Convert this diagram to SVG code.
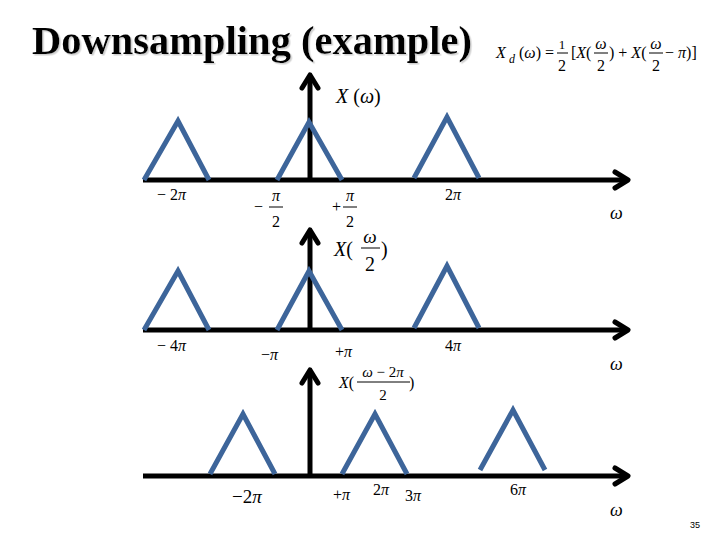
<svg xmlns="http://www.w3.org/2000/svg" width="720" height="540" viewBox="0 0 720 540">
<defs>
<marker id="ah" markerUnits="userSpaceOnUse" markerWidth="30" markerHeight="30" viewBox="-20 -15 30 30" refX="0" refY="0" orient="auto">
<path d="M-13,-8 L0,0 L-13,8" fill="none" stroke="#000" stroke-width="5" stroke-linejoin="round" stroke-linecap="round"/>
</marker>
<filter id="sh" x="-5%" y="-20%" width="110%" height="150%">
<feDropShadow dx="1.5" dy="1.5" stdDeviation="0.6" flood-color="#bbb" flood-opacity="0.7"/>
</filter>
</defs>
<style>
text{font-family:"Liberation Serif","Times New Roman","DejaVu Serif",serif;fill:#000}
.ax{stroke:#000;stroke-width:5;fill:none}
.tri{stroke:#3D659A;stroke-width:5;fill:none;stroke-linejoin:miter}
.m{font-size:16px}
.mi{font-size:18px;font-style:italic}
.i{font-style:italic}
.frac{stroke:#000;stroke-width:1}
.lbl{font-size:20px}
</style>
<rect width="720" height="540" fill="#fff"/>
<g id="title">
<text x="32" y="54" font-weight="bold" font-size="40" textLength="440" lengthAdjust="spacingAndGlyphs" filter="url(#sh)">Downsampling (example)</text>
</g>
<g id="formula" font-size="16">
<text x="496" y="58" class="i">X</text>
<text x="509" y="63" class="i" font-size="12">d</text>
<text x="519" y="58">(<tspan class="i">ω</tspan>) =</text>
<text x="562" y="49" text-anchor="middle" font-size="13">1</text>
<line class="frac" x1="557" y1="53" x2="568" y2="53"/>
<text x="562" y="71" text-anchor="middle">2</text>
<text x="571" y="58">[<tspan class="i">X</tspan>(</text>
<text x="601" y="49" text-anchor="middle" class="i">ω</text>
<line class="frac" x1="594" y1="53" x2="608" y2="53"/>
<text x="601" y="71" text-anchor="middle">2</text>
<text x="609" y="58">) + <tspan class="i">X</tspan>(</text>
<text x="656" y="49" text-anchor="middle" class="i">ω</text>
<line class="frac" x1="649" y1="53" x2="663" y2="53"/>
<text x="656" y="71" text-anchor="middle">2</text>
<text x="665" y="58">− <tspan class="i">π</tspan>)]</text>
</g>
<g id="connectors">
<line class="ax" x1="143" y1="180" x2="628" y2="180" marker-end="url(#ah)"/>
<line class="ax" x1="310" y1="180" x2="310" y2="75" marker-end="url(#ah)"/>
<line class="ax" x1="143" y1="330" x2="628" y2="330" marker-end="url(#ah)"/>
<line class="ax" x1="310" y1="330" x2="310" y2="230" marker-end="url(#ah)"/>
<line class="ax" x1="143" y1="476" x2="628" y2="476" marker-end="url(#ah)"/>
<line class="ax" x1="310" y1="476" x2="310" y2="370" marker-end="url(#ah)"/>
</g>
<g id="panel1">
<polyline class="tri" points="144,180 178,121 209,180"/>
<polyline class="tri" points="277,180 309,122 342,180"/>
<polyline class="tri" points="414,178 447,117 479,178"/>
<text x="336" y="103" class="lbl"><tspan class="i">X</tspan> (<tspan class="i">ω</tspan>)</text>
<text class="m" x="157" y="200">− 2<tspan class="i">π</tspan></text>
<text class="m" x="254" y="212">−</text>
<text class="m i" x="276" y="201" text-anchor="middle">π</text>
<line class="frac" x1="269" y1="207" x2="283" y2="207"/>
<text class="m" x="276" y="227" text-anchor="middle">2</text>
<text class="m" x="332" y="212">+</text>
<text class="m i" x="350" y="201" text-anchor="middle">π</text>
<line class="frac" x1="343" y1="207" x2="357" y2="207"/>
<text class="m" x="350" y="227" text-anchor="middle">2</text>
<text class="m" x="445" y="200">2<tspan class="i">π</tspan></text>
<text class="mi" x="610" y="219">ω</text>
</g>
<g id="panel2">
<polyline class="tri" points="144,330 178,271 209,330"/>
<polyline class="tri" points="277,330 309,271 342,330"/>
<polyline class="tri" points="414,328 447,266 479,328"/>
<text x="334" y="256" class="lbl"><tspan class="i">X</tspan>(</text>
<text x="370" y="243" text-anchor="middle" class="i" font-size="19">ω</text>
<line class="frac" x1="361" y1="248" x2="380" y2="248"/>
<text x="370" y="271" text-anchor="middle" class="lbl">2</text>
<text x="381" y="256" class="lbl">)</text>
<text class="m" x="157" y="351">− 4<tspan class="i">π</tspan></text>
<text class="m" x="261" y="360">−<tspan class="i">π</tspan></text>
<text class="m" x="335" y="357">+<tspan class="i">π</tspan></text>
<text class="m" x="445" y="351">4<tspan class="i">π</tspan></text>
<text class="mi" x="610" y="370">ω</text>
</g>
<g id="panel3">
<polyline class="tri" points="210,474 243,414 275,474"/>
<polyline class="tri" points="342,474 375,414 407,474"/>
<polyline class="tri" points="480,470 513,410 545,470"/>
<text x="339" y="388" font-size="16"><tspan class="i">X</tspan>(</text>
<text x="383" y="377" text-anchor="middle" font-size="15"><tspan class="i">ω</tspan> − 2<tspan class="i">π</tspan></text>
<line class="frac" x1="357" y1="382" x2="410" y2="382"/>
<text x="383" y="400" text-anchor="middle" font-size="15">2</text>
<text x="409" y="388" font-size="16">)</text>
<text x="232" y="503" font-size="19">−2<tspan class="i">π</tspan></text>
<text class="m" x="333" y="500">+<tspan class="i">π</tspan></text>
<text class="m" x="373" y="495">2<tspan class="i">π</tspan></text>
<text class="m" x="405" y="501">3<tspan class="i">π</tspan></text>
<text class="m" x="510" y="495">6<tspan class="i">π</tspan></text>
<text class="mi" x="610" y="516">ω</text>
</g>
<text x="690" y="528" style="font-family:'Liberation Sans',Arial,sans-serif;font-size:9px">35</text>
</svg>
